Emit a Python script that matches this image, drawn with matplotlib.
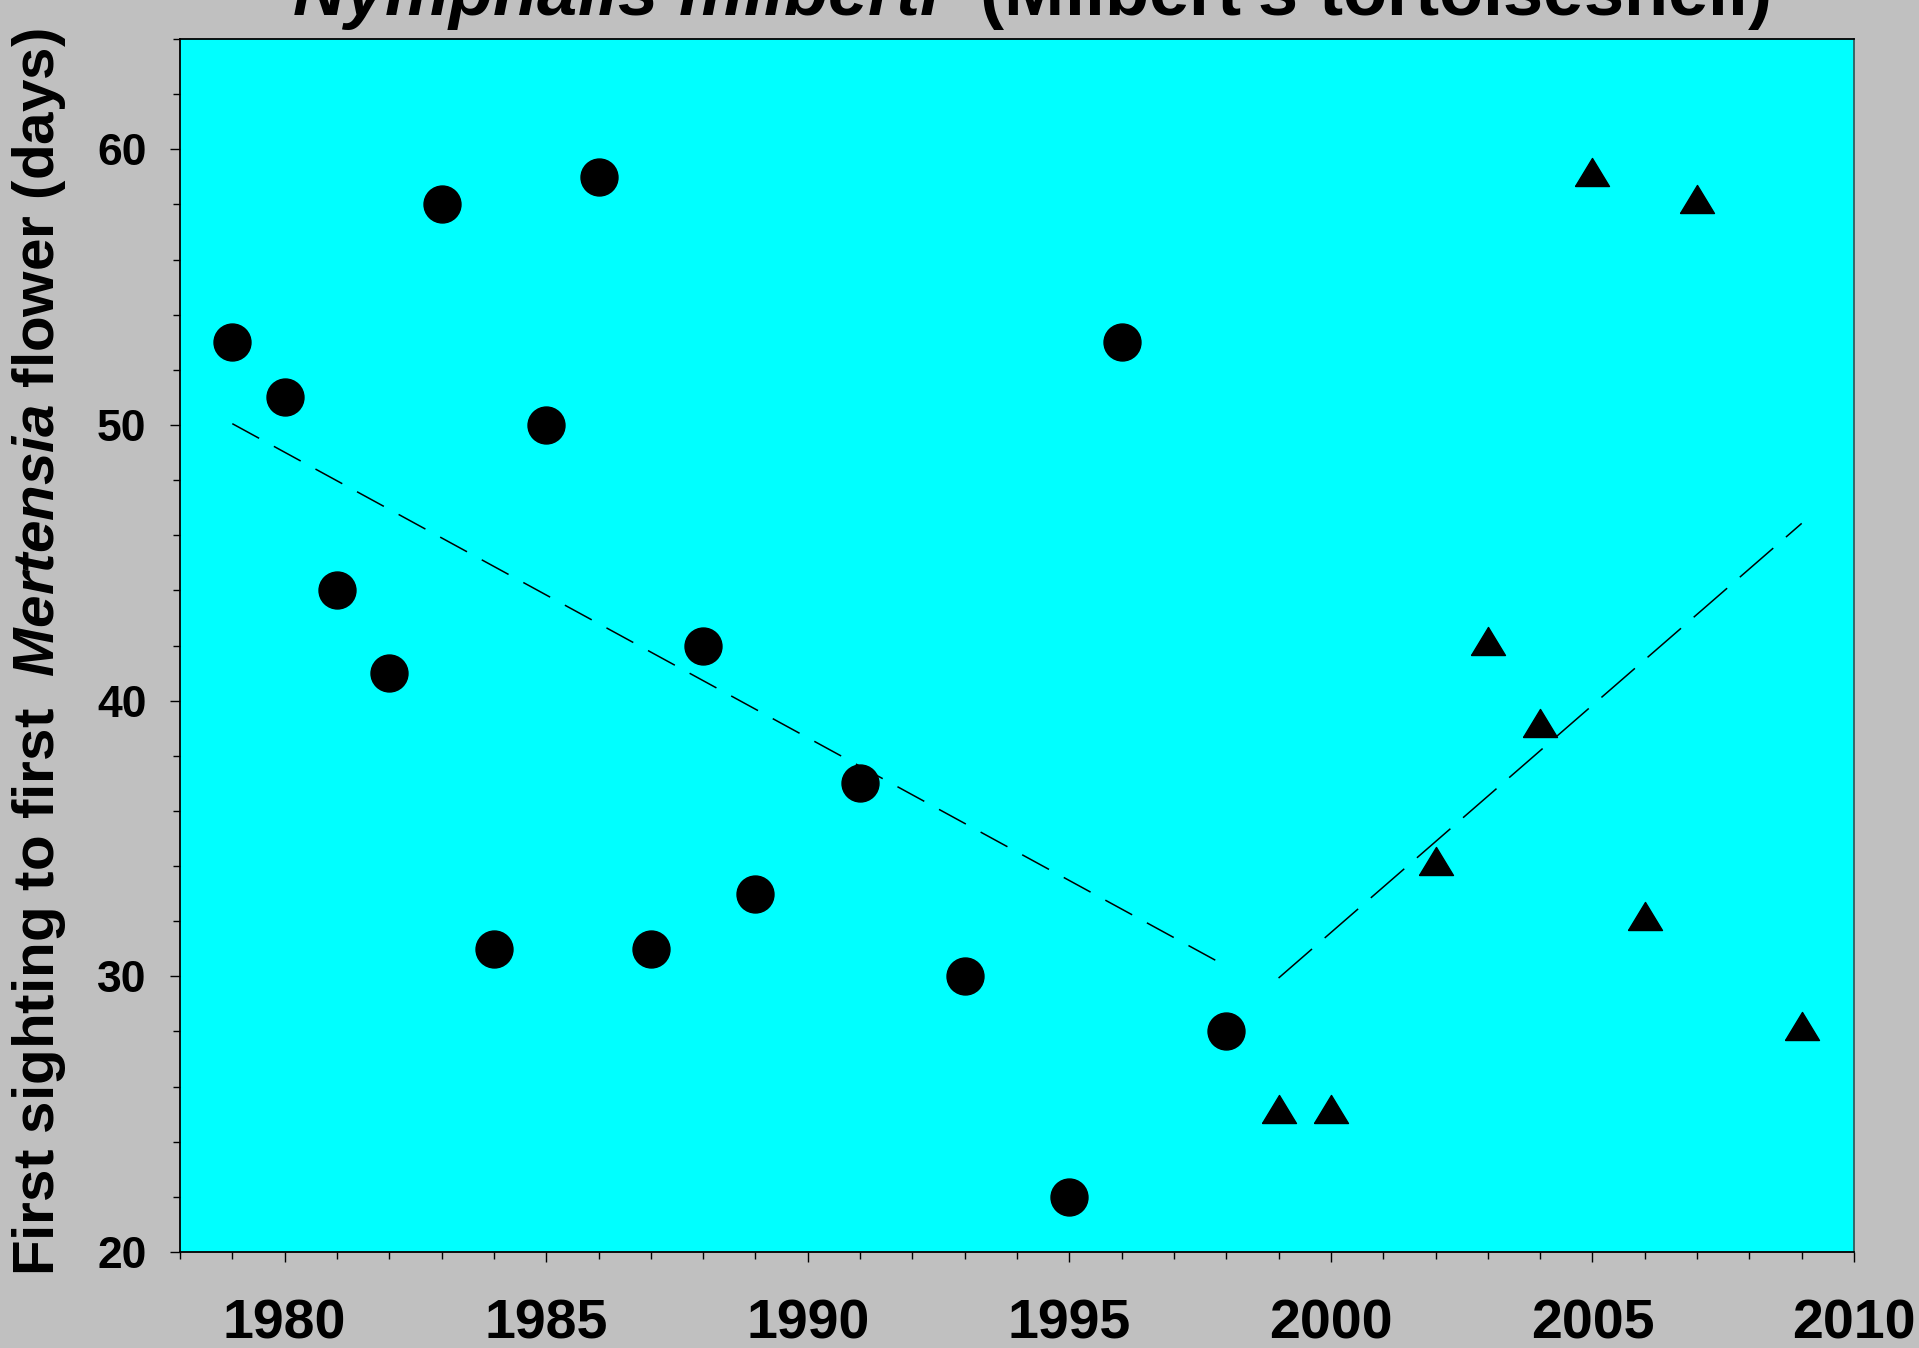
import numpy as np
import matplotlib.pyplot as plt
from matplotlib.ticker import MultipleLocator

plt.rcParams['font.family'] = ['Liberation Sans', 'DejaVu Sans']
plt.rcParams['font.weight'] = 'bold'
plt.rcParams['mathtext.fontset'] = 'custom'
plt.rcParams['mathtext.rm'] = 'Liberation Sans:bold'
plt.rcParams['mathtext.bf'] = 'Liberation Sans:bold'
plt.rcParams['mathtext.it'] = 'Liberation Sans:italic:bold'
plt.rcParams['mathtext.bfit'] = 'Liberation Sans:italic:bold'

# early period (circles)
years_early = [1979, 1980, 1981, 1982, 1983, 1984, 1985, 1986, 1987, 1988,
               1989, 1991, 1993, 1995, 1996, 1998]
days_early = [53, 51, 44, 41, 58, 31, 50, 59, 31, 42, 33, 37, 30, 22, 53, 28]

# late period (triangles)
years_late = [1999, 2000, 2002, 2003, 2004, 2005, 2006, 2007, 2009]
days_late = [25, 25, 34, 42, 39, 59, 32, 58, 28]

fig = plt.figure(figsize=(19.19, 13.48), dpi=100)
fig.patch.set_facecolor('#c0c0c0')
ax = fig.add_axes([180 / 1919, 1 - 1252 / 1348, (1854 - 180) / 1919, (1252 - 39) / 1348])
ax.set_facecolor('#00ffff')

# wide triangle, sitting a little above its data point
tri = [(-1, -0.53), (1, -0.53), (0, 1.12), (-1, -0.53)]

ax.plot(years_early, days_early, 'o', color='black', markersize=26.6, zorder=3)
ax.plot(years_late, days_late, linestyle='none', marker=tri, color='black',
        markersize=27.4, zorder=3)

# regression lines for each period
x1 = np.array([years_early[0], years_early[-1]])
b1 = np.polyfit(years_early, days_early, 1)
ax.plot(x1, np.polyval(b1, x1), color='black', lw=1.1, dashes=(20, 11))
x2 = np.array([years_late[0], years_late[-1]])
b2 = np.polyfit(years_late, days_late, 1)
ax.plot(x2, np.polyval(b2, x2), color='black', lw=1.1, dashes=(29, 11))

ax.set_xlim(1978, 2010)
ax.set_ylim(20, 64)
ax.xaxis.set_major_locator(MultipleLocator(5))
ax.xaxis.set_minor_locator(MultipleLocator(1))
ax.yaxis.set_major_locator(MultipleLocator(10))
ax.yaxis.set_minor_locator(MultipleLocator(2))
ax.tick_params(which='major', direction='out', length=7.2, width=1, color='black')
ax.tick_params(which='minor', direction='out', length=5, width=1, color='black')
ax.tick_params(axis='x', which='major', labelsize=40, pad=26)
ax.tick_params(axis='y', which='major', labelsize=32, pad=17)

for s in ['left', 'bottom', 'top']:
    ax.spines[s].set_color('black')
    ax.spines[s].set_linewidth(1.3)
ax.spines['right'].set_color('#2f5f5f')
ax.spines['right'].set_linewidth(1.3)

fig.text(39 / 1919, 1 - 652 / 1348,
         r'First sighting to first  $\mathbfit{Mertensia}$ flower (days)',
         rotation=90, ha='center', va='center', fontsize=42, fontweight='bold')
fig.text(1031 / 1919, 1 - 15 / 1348,
         r"$\mathbfit{Nymphalis\ milberti}$  (Milbert's tortoiseshell)",
         ha='center', va='baseline', fontsize=52, fontweight='bold')

fig.savefig('out.png', dpi=100, facecolor=fig.get_facecolor())
